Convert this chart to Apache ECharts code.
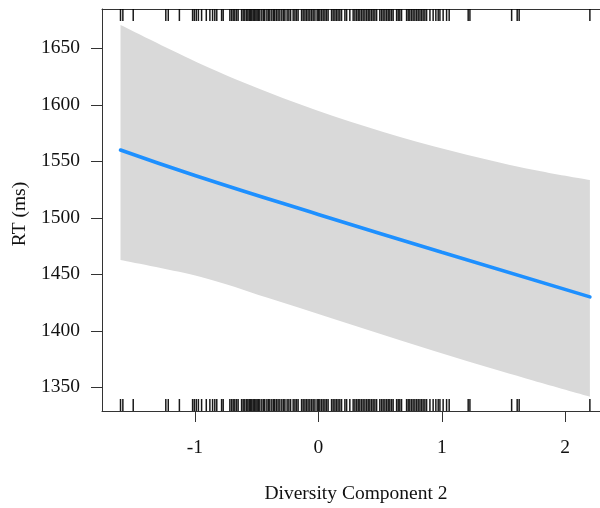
<!DOCTYPE html>
<html>
<head>
<meta charset="utf-8">
<script src="https://cdn.jsdelivr.net/npm/echarts@6/dist/echarts.min.js"></script>
<style>html,body{margin:0;padding:0;background:#fff;}#c{width:600px;height:508px;}</style>
</head>
<body>
<div id="c"></div>
<script>
// ---- data ----
var xTicks = [-1, 0, 1, 2];
var yTicks = [1350, 1400, 1450, 1500, 1550, 1600, 1650];
var fitX = [-1.603, -1, 0, 1, 2.2];
var fitY = [1560, 1537.5, 1503, 1469.5, 1430];
var bandX = [-1.603, -0.958, -0.418, 0.119, 0.662, 1.202, 1.739, 2.2];
var bandUpper = [1670.6, 1636.4, 1611.6, 1590.1, 1571.6, 1555.9, 1542.5, 1533.4];
var bandLower = [1462.6, 1447.8, 1429.4, 1410.6, 1391.6, 1373.2, 1356.0, 1341.7];
var rugX = [
 -1.603, -1.584, -1.500, -1.236, -1.216, -1.126, -1.019, -1.005, -0.989, -0.972,
 -0.946, -0.908, -0.879, -0.857, -0.839, -0.823, -0.784, -0.771, -0.717, -0.703,
 -0.690, -0.677, -0.663, -0.650, -0.622, -0.609, -0.596, -0.582, -0.571, -0.560,
 -0.549, -0.539, -0.528, -0.517, -0.506, -0.496, -0.485, -0.474, -0.458, -0.444,
 -0.434, -0.417, -0.404, -0.393, -0.377, -0.363, -0.353, -0.339, -0.326, -0.312,
 -0.296, -0.282, -0.271, -0.253, -0.239, -0.225, -0.204, -0.190, -0.177, -0.164,
 -0.136, -0.123, -0.109, -0.096, -0.083, -0.069, -0.055, -0.042, -0.028, -0.010,
 0.000, 0.012, 0.026, 0.039, 0.053, 0.066, 0.079, 0.107, 0.120, 0.134,
 0.147, 0.160, 0.174, 0.188, 0.215, 0.229, 0.255, 0.282, 0.296, 0.310,
 0.323, 0.336, 0.350, 0.363, 0.377, 0.391, 0.404, 0.417, 0.431, 0.444,
 0.458, 0.472, 0.498, 0.512, 0.525, 0.539, 0.553, 0.566, 0.579, 0.593,
 0.606, 0.634, 0.647, 0.660, 0.674, 0.715, 0.728, 0.741, 0.755, 0.768,
 0.782, 0.796, 0.809, 0.823, 0.836, 0.849, 0.863, 0.877, 0.904, 0.930,
 0.952, 0.971, 0.985, 1.011, 1.039, 1.060, 1.214, 1.228, 1.566, 1.611,
 1.627, 2.200
];
var xTitle = 'Diversity Component 2';
var yTitle = 'RT (ms)';

// ---- chart ----
var FONT = '"Liberation Serif", "DejaVu Serif", serif';
var FS = 19.5;
var chart = echarts.init(document.getElementById('c'), null, {renderer: 'canvas'});

// Catmull-Rom -> cubic bezier path segments through screen points
function curveSegs(pts) {
  var s = '';
  for (var i = 0; i < pts.length - 1; i++) {
    var p0 = pts[Math.max(i - 1, 0)], p1 = pts[i], p2 = pts[i + 1], p3 = pts[Math.min(i + 2, pts.length - 1)];
    var c1 = [p1[0] + (p2[0] - p0[0]) / 6, p1[1] + (p2[1] - p0[1]) / 6];
    var c2 = [p2[0] - (p3[0] - p1[0]) / 6, p2[1] - (p3[1] - p1[1]) / 6];
    s += ' C' + c1[0] + ' ' + c1[1] + ' ' + c2[0] + ' ' + c2[1] + ' ' + p2[0] + ' ' + p2[1];
  }
  return s;
}

var axisLineStyle = {color: '#333', width: 1};
var option = {
  animation: false,
  backgroundColor: '#fff',
  grid: {left: 102, top: 9, right: 0, bottom: 97, containLabel: false},
  xAxis: [{
    type: 'value', min: -1.753, max: 2.282, position: 'bottom',
    splitLine: {show: false},
    axisLine: {show: true, onZero: false, lineStyle: axisLineStyle},
    axisTick: {show: true, length: 11, customValues: xTicks, lineStyle: axisLineStyle},
    axisLabel: {customValues: xTicks, margin: 27, fontFamily: FONT, fontSize: FS, color: '#111'}
  }, {
    type: 'value', min: -1.753, max: 2.282, position: 'top',
    splitLine: {show: false},
    axisLine: {show: true, onZero: false, lineStyle: axisLineStyle},
    axisTick: {show: false}, axisLabel: {show: false}
  }],
  yAxis: [{
    type: 'value', min: 1329, max: 1684.8, position: 'left',
    splitLine: {show: false},
    axisLine: {show: true, onZero: false, lineStyle: axisLineStyle},
    axisTick: {show: true, length: 11, customValues: yTicks, lineStyle: axisLineStyle},
    axisLabel: {customValues: yTicks, margin: 22, fontFamily: FONT, fontSize: FS, color: '#111',
      formatter: function (v) { return String(v); }}
  }],
  series: [{
    type: 'custom',
    coordinateSystem: 'cartesian2d',
    data: [[bandX[0], bandUpper[0]]],
    silent: true,
    z: 1,
    renderItem: function (params, api) {
      var up = bandX.map(function (x, k) { return api.coord([x, bandUpper[k]]); });
      var lo = bandX.map(function (x, k) { return api.coord([x, bandLower[k]]); }).reverse();
      var d = 'M' + up[0][0] + ' ' + up[0][1] + curveSegs(up) +
              ' L' + lo[0][0] + ' ' + lo[0][1] + curveSegs(lo) + ' Z';
      return {type: 'path', shape: {pathData: d}, style: {fill: '#D9D9D9', stroke: null}};
    }
  }, {
    type: 'line',
    data: fitX.map(function (x, k) { return [x, fitY[k]]; }),
    showSymbol: false, symbol: 'none',
    smooth: 0.5,
    lineStyle: {color: '#1E90FF', width: 3.6, cap: 'round'},
    z: 3
  }, {
    type: 'custom',
    coordinateSystem: 'cartesian2d',
    data: rugX.map(function (x) { return [x, 1500]; }),
    silent: true,
    clip: false,
    z: 4,
    renderItem: function (params, api) {
      var cs = params.coordSys;
      var px = api.coord([api.value(0), api.value(1)])[0];
      var top = cs.y, bot = cs.y + cs.height, L = 12;
      var st = {stroke: 'rgba(0,0,0,0.9)', lineWidth: 1.5};
      return {type: 'group', children: [
        {type: 'line', shape: {x1: px, y1: top, x2: px, y2: top + L}, style: st},
        {type: 'line', shape: {x1: px, y1: bot - L, x2: px, y2: bot}, style: st}
      ]};
    }
  }],
  graphic: [{
    type: 'text', x: 356, y: 494, z: 10,
    style: {text: xTitle, font: FS + 'px ' + FONT, fill: '#111', textAlign: 'center', textVerticalAlign: 'middle'}
  }, {
    type: 'text', x: 20, y: 214, rotation: Math.PI / 2, z: 10,
    style: {text: yTitle, font: FS + 'px ' + FONT, fill: '#111', textAlign: 'center', textVerticalAlign: 'middle'}
  }]
};
chart.setOption(option);
</script>
</body>
</html>
